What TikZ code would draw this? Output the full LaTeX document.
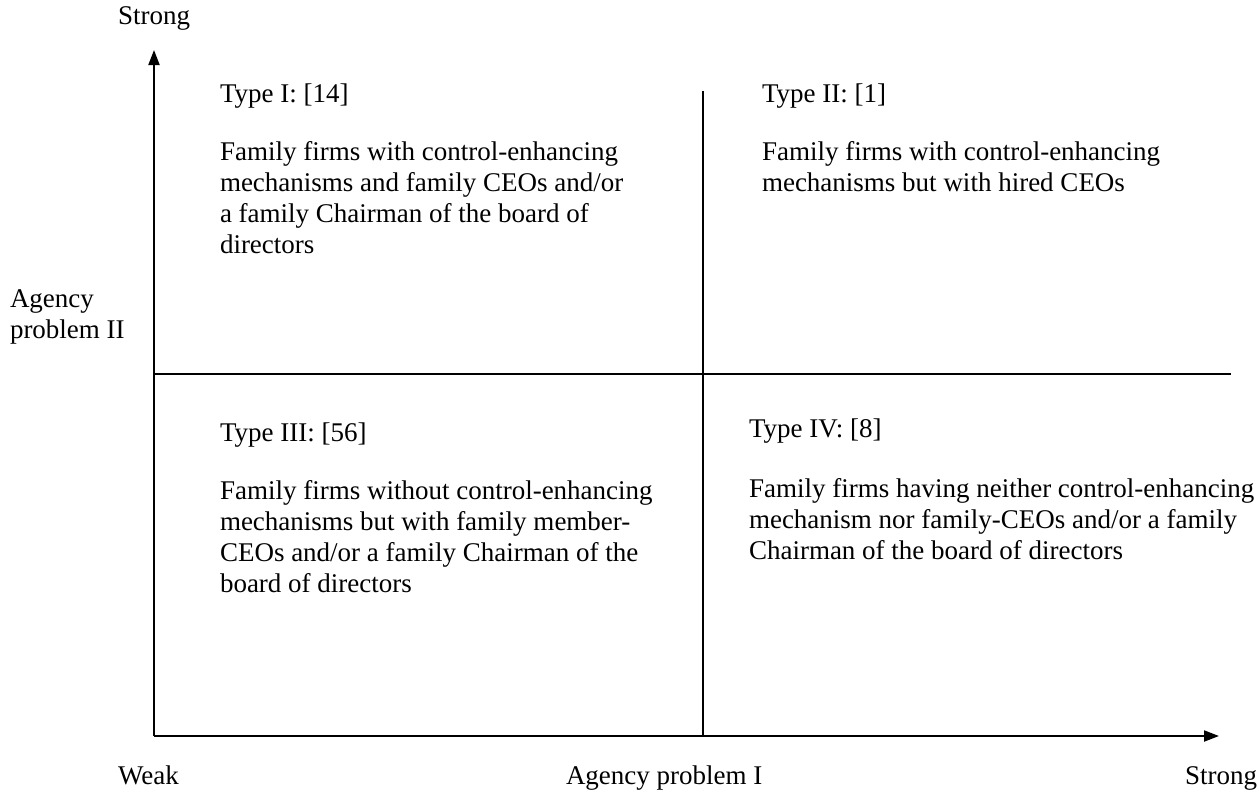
\documentclass[tikz,border=0pt]{standalone}
\usepackage{fontspec}
\setmainfont{Liberation Serif}
\usetikzlibrary{arrows.meta}
\begin{document}
\begin{tikzpicture}[x=1pt,y=-1pt,
  every node/.style={inner sep=0pt,outer sep=0pt,font=\fontsize{27}{31}\selectfont},
  lbl/.style={anchor=base west},
  axis/.style={line width=2pt,-{Triangle[length=15pt,width=11pt]}},
  divider/.style={line width=2pt}]
\useasboundingbox (0,0) rectangle (1259,793);
% axes
\coordinate (O) at (154,736);
\coordinate (Ytop) at (154,50);
\coordinate (Xend) at (1219,736);
\coordinate (Mtop) at (703,91);
\coordinate (Mbot) at (703,736);
\coordinate (Hl) at (154,374);
\coordinate (Hr) at (1231,374);
\draw[axis] (O) -- (Ytop);
\draw[axis] (O) -- (Xend);
\draw[divider] (Mtop) -- (Mbot);
\draw[divider] (Hl) -- (Hr);
% axis labels
\node[lbl] (ystrong) at (118,24) {Strong};
\node[lbl] (ylabel) at (10,307) {\begin{tabular}[t]{@{}l@{}}Agency\\problem II\end{tabular}};
\node[lbl] (weak) at (118,784) {Weak};
\node[lbl] (xlabel) at (566,784) {Agency problem I};
\node[lbl] (xstrong) at (1185,784) {Strong};
% quadrants
\node[lbl] (t1) at (220,102) {Type I: [14]};
\node[lbl] (d1) at (220,160) {\begin{tabular}[t]{@{}l@{}}Family firms with control-enhancing\\mechanisms and family CEOs and/or\\a family Chairman of the board of\\directors\end{tabular}};
\node[lbl] (t2) at (762,102) {Type II: [1]};
\node[lbl] (d2) at (762,160) {\begin{tabular}[t]{@{}l@{}}Family firms with control-enhancing\\mechanisms but with hired CEOs\end{tabular}};
\node[lbl] (t3) at (220,441) {Type III: [56]};
\node[lbl] (d3) at (220,499) {\begin{tabular}[t]{@{}l@{}}Family firms without control-enhancing\\mechanisms but with family member-\\CEOs and/or a family Chairman of the\\board of directors\end{tabular}};
\node[lbl] (t4) at (749,437) {Type IV: [8]};
\node[lbl] (d4) at (749,497) {\begin{tabular}[t]{@{}l@{}}Family firms having neither control-enhancing\\mechanism nor family-CEOs and/or a family\\Chairman of the board of directors\end{tabular}};
\end{tikzpicture}
\end{document}
